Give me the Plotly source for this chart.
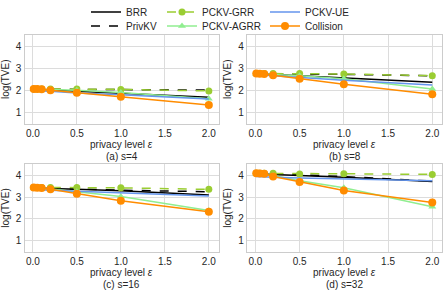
import plotly.graph_objects as go

eps = [0.01, 0.05, 0.1, 0.2, 0.5, 1.0, 2.0]
panel_titles = ["(a) s=4", "(b) s=8", "(c) s=16", "(d) s=32"]
series_names = ["BRR", "PrivKV", "PCKV-GRR", "PCKV-AGRR", "PCKV-UE", "Collision"]

brr = [
    [2.05, 2.05, 2.04, 2.02, 1.95, 1.86, 1.68],
    [2.75, 2.75, 2.74, 2.72, 2.66, 2.56, 2.36],
    [3.44, 3.43, 3.42, 3.40, 3.36, 3.30, 3.10],
    [4.08, 4.08, 4.07, 4.05, 4.00, 3.92, 3.72],
]
privkv = [
    [2.05, 2.05, 2.05, 2.05, 2.04, 2.03, 2.01],
    [2.75, 2.75, 2.75, 2.75, 2.74, 2.72, 2.66],
    [3.44, 3.44, 3.43, 3.42, 3.38, 3.32, 3.25],
    [4.08, 4.08, 4.08, 4.07, 4.03, 3.95, 3.74],
]
pckv_grr = [
    [2.06, 2.06, 2.06, 2.06, 2.06, 2.04, 1.97],
    [2.76, 2.76, 2.76, 2.76, 2.76, 2.74, 2.66],
    [3.45, 3.45, 3.45, 3.45, 3.45, 3.43, 3.36],
    [4.10, 4.10, 4.10, 4.10, 4.07, 4.08, 4.05],
]
pckv_agrr = [
    [2.05, 2.05, 2.05, 2.04, 2.00, 1.90, 1.62],
    [2.74, 2.74, 2.74, 2.72, 2.66, 2.52, 2.06],
    [3.43, 3.42, 3.41, 3.38, 3.25, 3.03, 2.38],
    [4.08, 4.07, 4.05, 4.00, 3.76, 3.43, 2.56],
]
pckv_ue = [
    [1.98, 1.98, 1.97, 1.95, 1.88, 1.80, 1.60],
    [2.70, 2.70, 2.69, 2.66, 2.58, 2.46, 2.24],
    [3.35, 3.35, 3.34, 3.32, 3.27, 3.20, 3.05],
    [3.95, 3.95, 3.94, 3.92, 3.88, 3.84, 3.76],
]
collision = [
    [2.06, 2.06, 2.05, 2.00, 1.89, 1.71, 1.33],
    [2.76, 2.75, 2.74, 2.68, 2.52, 2.27, 1.82],
    [3.45, 3.44, 3.42, 3.36, 3.16, 2.83, 2.33],
    [4.10, 4.09, 4.08, 3.95, 3.70, 3.31, 2.75],
]
x_ticks = [0.0, 0.5, 1.0, 1.5, 2.0]
y_ticks = [1, 2, 3, 4]

styles = {
    "BRR": dict(color="#000000", dash="solid", marker=None),
    "PrivKV": dict(color="#000000", dash="dash", marker=None),
    "PCKV-GRR": dict(color="#9acd32", dash="dash", marker="circle"),
    "PCKV-AGRR": dict(color="#90ee90", dash="solid", marker="triangle-up"),
    "PCKV-UE": dict(color="#6495ed", dash="solid", marker=None),
    "Collision": dict(color="#ff8c00", dash="solid", marker="circle"),
}
data_by_name = {
    "BRR": brr, "PrivKV": privkv, "PCKV-GRR": pckv_grr,
    "PCKV-AGRR": pckv_agrr, "PCKV-UE": pckv_ue, "Collision": collision,
}

W, H = 447, 291
FONT = "Liberation Sans, Arial, sans-serif"
TXT = "#262626"

# panel geometry in pixels (left, right, top, bottom)
panels = [
    (24.5, 218.5, 34.5, 124.0),
    (247.0, 442.0, 34.5, 124.0),
    (24.5, 218.5, 164.0, 252.0),
    (247.0, 442.0, 164.0, 252.0),
]

fig = go.Figure()
legend_map = {"BRR": "legend", "PCKV-GRR": "legend2", "PCKV-UE": "legend3",
              "PrivKV": "legend4", "PCKV-AGRR": "legend5", "Collision": "legend6"}

for p in range(4):
    ax = "" if p == 0 else str(p + 1)
    for name in series_names:
        st = styles[name]
        mode = "lines+markers" if st["marker"] else "lines"
        tr = dict(
            x=eps, y=data_by_name[name][p], mode=mode, name=name,
            line=dict(color=st["color"], width=1.5, dash=st["dash"]),
            xaxis="x" + ax, yaxis="y" + ax,
            showlegend=(p == 0), legend=legend_map[name],
        )
        if st["marker"]:
            tr["marker"] = dict(symbol=st["marker"], size=8 if name == "Collision" else 7,
                                color=st["color"], line=dict(width=0))
        fig.add_trace(go.Scatter(**tr))

layout = dict(
    width=W, height=H, margin=dict(l=0, r=0, t=0, b=0, autoexpand=False),
    paper_bgcolor="white", plot_bgcolor="white",
    font=dict(family=FONT, size=10, color=TXT),
)
annotations = []
for p, (l, r, t, b) in enumerate(panels):
    ax = "" if p == 0 else str(p + 1)
    layout["xaxis" + ax] = dict(
        domain=[l / W, r / W], range=[-0.095, 2.11], anchor="y" + ax,
        tickvals=x_ticks, tickformat=".1f", showgrid=True, gridcolor="#dcdcdc",
        gridwidth=1, showline=True, linecolor="#cccccc", linewidth=1.2, mirror=True,
        zeroline=False, ticks="", tickfont=dict(size=10, color=TXT), automargin=False,
    )
    layout["yaxis" + ax] = dict(
        domain=[1 - b / H, 1 - t / H], range=[0.47, 4.53], anchor="x" + ax,
        tickvals=y_ticks, showgrid=True, gridcolor="#dcdcdc", gridwidth=1,
        showline=True, linecolor="#cccccc", linewidth=1.2, mirror=True,
        zeroline=False, ticks="", tickfont=dict(size=10, color=TXT), automargin=False,
        title=dict(text="log(TVE)", font=dict(size=10, color=TXT), standoff=4),
    )
    cx = (l + r) / 2 / W
    annotations.append(dict(text="privacy level <i>ε</i>", x=cx, y=1 - (b + 20.5) / H,
                            xref="paper", yref="paper", showarrow=False,
                            font=dict(size=10, color=TXT), xanchor="center", yanchor="middle"))
    annotations.append(dict(text=panel_titles[p], x=cx, y=1 - (b + 32) / H,
                            xref="paper", yref="paper", showarrow=False,
                            font=dict(size=10, color=TXT), xanchor="center", yanchor="middle"))
layout["annotations"] = annotations

leg_pos = {"legend": (86, 12), "legend2": (162, 12), "legend3": (265, 12),
           "legend4": (86, 26), "legend5": (162, 26), "legend6": (265, 26)}
for key, (lx, ly) in leg_pos.items():
    layout[key] = dict(x=lx / W, y=1 - ly / H, xanchor="left", yanchor="middle",
                       bgcolor="rgba(0,0,0,0)", borderwidth=0,
                       font=dict(size=10, color=TXT), orientation="h")

fig.update_layout(**layout)
fig.write_html("out.html", config={"displayModeBar": False},
               post_script="document.body.style.margin='0';document.body.style.overflow='hidden';")
